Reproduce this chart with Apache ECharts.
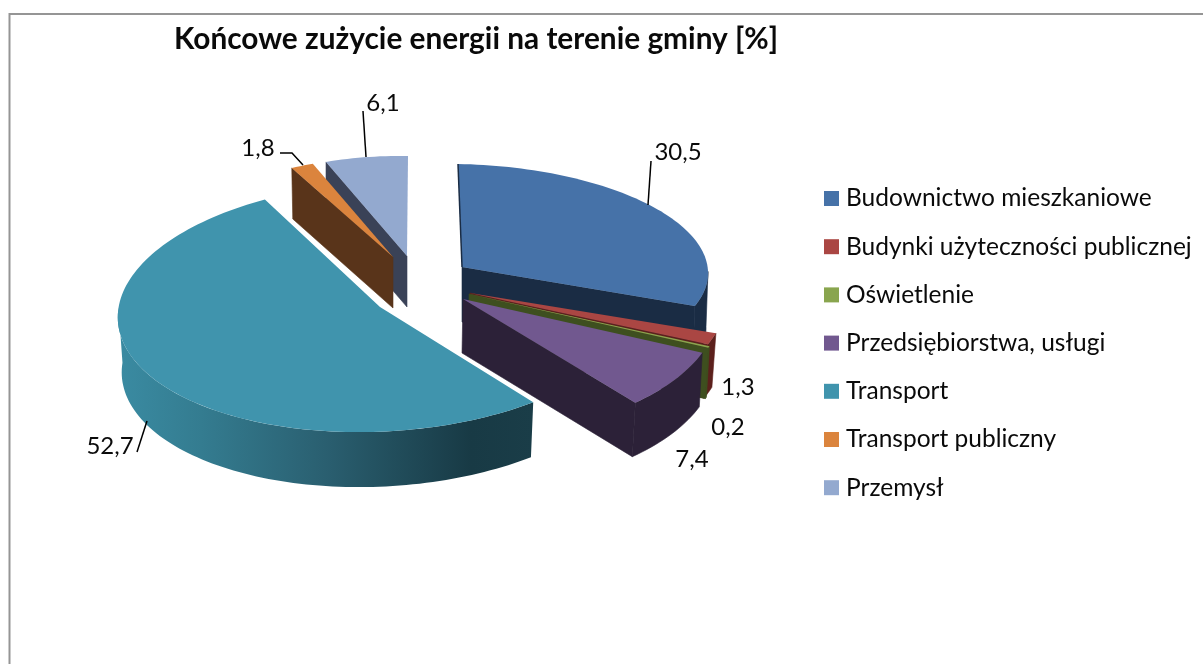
<!DOCTYPE html>
<html><head><meta charset="utf-8">
<style>html,body{margin:0;padding:0;background:#fff}#c{width:1203px;height:664px}</style>
<script src="https://cdn.jsdelivr.net/npm/echarts@6/dist/echarts.min.js"></script>
</head><body><div id="c"></div>
<script>
const titleText = 'Końcowe zużycie energii na terenie gminy [%]';
const categories = ['Budownictwo mieszkaniowe','Budynki użyteczności publicznej','Oświetlenie','Przedsiębiorstwa, usługi','Transport','Transport publiczny','Przemysł'];
const values = [30.5, 1.3, 0.2, 7.4, 52.7, 1.8, 6.1];

const topColors  = ['#4672A8','#AA4643','#89A54E','#71588F','#4094AD','#DB843D','#93A9CF'];
const wallColors = ['#1A2C44','#5C201C','#3E4F1F','#2C2138','#1F4450','#59341A','#3A4257'];

// Per-slice view: apex (explosion), ellipse projection coefficients, extrusion.
const views = [
  {x:462,y:267,a:246,b:-4, c:103,e:4.4,dx:-2,adx:0,dy:55,k:1,rim:true},
  {x:470,y:293,a:261,b:-1, c:141,e:-8, dx:-4,adx:0,dy:54,k:1},
  {x:469,y:294,a:256,b:-18,c:126,e:0,  dx:-3,adx:0,dy:51,k:1},
  {x:463,y:299,a:256,b:-18,c:135,e:-4, dx:-3,adx:-1,dy:54,k:1},
  {x:380,y:307,a:262,b:11, c:125,e:-5, dx:0, adx:0,dy:55,k:.985,shade:true},
  {x:393,y:257,a:207,b:-3, c:98, e:6,  dx:1, adx:0,dy:51,k:1},
  {x:407,y:256,a:219,b:1,  c:100,e:3.5,dx:0, adx:0,dy:51,k:1}
];
const drawOrder = [6,5,0,1,2,3,4];

// Data labels: centre of the text, then the leader line (if any).
const labels = [
  {x:678,y:152,line:[[648,205],[651,161]]},
  {x:738,y:387},
  {x:728,y:427},
  {x:692,y:459},
  {x:110,y:446,line:[[147,421],[137,452]]},
  {x:258,y:148,line:[[303,165],[292,153],[280,153]]},
  {x:383,y:103,line:[[366,157],[363,111]]}
];

const total = values.reduce((s,v)=>s+v,0);
const starts = [];
values.reduce((s,v,i)=>{starts[i]=s;return s+v;},0);
const rad = d=>d*Math.PI/180;
function pt(v,deg,sx,sy,k){
  const t=rad(deg),S=Math.sin(t),C=Math.cos(t),K=k||1;
  return [v.x+K*(v.a*S+v.b*C)+(sx||0), v.y-v.c*C+v.e*S+(sy||0)];
}
function arc(v,from,to,sx,sy,k){
  const out=[],n=Math.max(2,Math.ceil(Math.abs(to-from)/1.5));
  for(let j=0;j<=n;j++) out.push(pt(v,from+(to-from)*j/n,sx,sy,k));
  return out;
}
function renderSlice(i){
  return function(){
    const v=views[i];
    const from=starts[i]/total*360, to=(starts[i]+values[i])/total*360;
    const kids=[];
    const apex=[v.x,v.y], apexB=[v.x+v.adx,v.y+v.dy];
    // radial walls facing the viewer
    const radial=(deg)=>kids.push({type:'polygon',silent:true,shape:{points:[apex,pt(v,deg),pt(v,deg,v.dx,v.dy,v.k),apexB]},style:{fill:wallColors[i],stroke:wallColors[i],lineWidth:.6}});
    if(to>90&&to<=180) radial(to);
    if(from>180) radial(from);
    // outer curved wall
    const f=Math.max(from,90), t=Math.min(to,272);
    if(t>f){
      const fill=v.shade?new echarts.graphic.LinearGradient(0,0,1,0,[
        {offset:0,color:'#3A8BA2'},{offset:.2,color:'#347C90'},{offset:.5,color:'#2A5F70'},{offset:.85,color:'#183A45'},{offset:1,color:'#1A3D48'}]):wallColors[i];
      kids.push({type:'polygon',silent:true,shape:{points:arc(v,t,f).concat(arc(v,f,t,v.dx,v.dy,v.k))},style:v.shade?{fill:fill}:{fill:fill,stroke:wallColors[i],lineWidth:.6}});
    }
    // top face
    kids.push({type:'polygon',silent:true,shape:{points:[apex].concat(arc(v,from,to))},style:{fill:topColors[i]}});
    if(v.rim) kids.push({type:'polyline',silent:true,shape:{points:[pt(v,from),apex]},style:{stroke:wallColors[i],lineWidth:1.5,fill:null}});
    // label
    const L=labels[i];
    if(L.line) kids.push({type:'polyline',silent:true,z2:5,shape:{points:L.line},style:{stroke:'#000',lineWidth:1.5,fill:null}});
    kids.push({type:'text',silent:true,z2:6,x:L.x,y:L.y,style:{text:String(values[i]).replace('.',','),fill:'#0a0a0a',font:'24px Lato',align:'center',verticalAlign:'middle'}});
    return {type:'group',children:kids};
  };
}
const series=drawOrder.map(i=>({
  type:'custom',name:categories[i],coordinateSystem:'none',
  itemStyle:{color:topColors[i]},
  data:[[values[i]]],
  animation:false,clip:false,
  renderItem:renderSlice(i)
}));
const chart=echarts.init(document.getElementById('c'),null,{renderer:'canvas'});
chart.setOption({
  animation:false,
  backgroundColor:'#fff',
  color:topColors,
  title:{text:titleText,left:174,top:24,padding:0,textStyle:{fontFamily:'Lato',fontWeight:'bold',fontSize:29.8,color:'#0a0a0a'}},
  legend:{orient:'vertical',left:824,top:186,padding:0,itemWidth:15,itemHeight:15,itemGap:23.2,icon:'rect',
    selectedMode:false,
    data:categories,
    textStyle:{fontFamily:'Lato',fontSize:24.5,color:'#0a0a0a',lineHeight:24,padding:[0,0,0,2]}},
  graphic:[{type:'rect',silent:true,z:-10,shape:{x:9.5,y:14,width:1300,height:800},style:{fill:'#fff',stroke:'#959595',lineWidth:2}}],
  series:series
});
</script></body></html>
